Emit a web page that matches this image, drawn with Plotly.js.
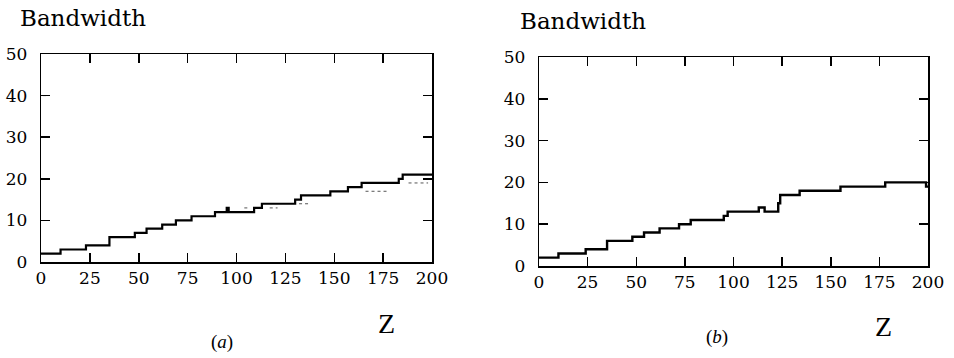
<!DOCTYPE html>
<html>
<head>
<meta charset="utf-8">
<script src="https://cdn.plot.ly/plotly-3.0.1.min.js"></script>
<style>html,body{margin:0;padding:0;background:#fff;}#chart{width:954px;height:358px;}</style>
</head>
<body>
<div id="chart"></div>
<script>
// Tick values
const xTicks = [0, 25, 50, 75, 100, 125, 150, 175, 200];
const yTicks = [0, 10, 20, 30, 40, 50];

// (a) main step series
const aX = [0, 10, 23, 35, 48, 54, 62, 69, 77, 89, 95, 96, 109, 113, 130, 133, 148, 157, 164, 183, 185, 200];
const aY = [2, 3, 4, 6, 7, 8, 9, 10, 11, 12, 13, 12, 13, 14, 15, 16, 17, 18, 19, 20, 21, 21];
// (a) faint dotted segments (null separates segments)
const aDotX = [1, 4, null, 104, 107, null, 117, 121, null, 132, 138, null, 166, 177, null, 188, 198];
const aDotY = [40, 40, null, 13, 13, null, 13, 13, null, 14, 14, null, 17, 17, null, 19, 19];

// (b) main step series
const bX = [0, 10, 24, 35, 48, 54, 62, 72, 78, 95, 97, 113, 116, 123, 124, 134, 155, 178, 199, 200];
const bY = [2, 3, 4, 6, 7, 8, 9, 10, 11, 12, 13, 14, 13, 15, 17, 18, 19, 20, 19, 19];

const serif = 'DejaVu Serif';
const cm = 'Liberation Serif';

function xAx(domain, anchor) {
  return {domain: domain, anchor: anchor, range: [0, 200], tickvals: xTicks, ticktext: xTicks.map(String),
    ticks: 'inside', ticklen: 9, tickwidth: 1.5, tickcolor: '#000', showline: true, linecolor: '#000', linewidth: 1.5,
    mirror: 'ticks', showgrid: false, zeroline: false, tickfont: {family: serif, size: 17, color: '#000'}};
}
function yAx(domain, anchor) {
  return {domain: domain, anchor: anchor, range: [0, 50], tickvals: yTicks, ticktext: yTicks.map(v => String(v) + '\u00a0\u2009'),
    ticks: 'inside', ticklen: 9, tickwidth: 1.5, tickcolor: '#000', showline: true, linecolor: '#000', linewidth: 1.5,
    mirror: 'ticks', showgrid: false, zeroline: false, tickfont: {family: serif, size: 17, color: '#000'}};
}

const data = [
  {x: aX, y: aY, xaxis: 'x', yaxis: 'y', mode: 'lines', line: {shape: 'hv', color: '#000', width: 2.2}},
  {x: aDotX, y: aDotY, xaxis: 'x', yaxis: 'y', mode: 'lines', line: {color: '#555', width: 1, dash: 'dot'}},
  {x: bX, y: bY, xaxis: 'x2', yaxis: 'y2', mode: 'lines', line: {shape: 'hv', color: '#000', width: 2.4}}
];

const layout = {
  width: 954, height: 358,
  margin: {l: 0, r: 0, t: 0, b: 0},
  showlegend: false,
  xaxis: xAx([41/954, 432/954], 'y'),
  yaxis: yAx([1 - 262/358, 1 - 54/358], 'x'),
  xaxis2: xAx([539/954, 928/954], 'y2'),
  yaxis2: yAx([1 - 266/358, 1 - 57/358], 'x2'),
  annotations: [
    {text: 'Bandwidth', xref: 'paper', yref: 'paper', x: 18/954, y: 1 - 18/358, xanchor: 'left', yanchor: 'middle', showarrow: false, font: {family: serif, size: 23, color: '#000'}},
    {text: 'Bandwidth', xref: 'paper', yref: 'paper', x: 518/954, y: 1 - 21/358, xanchor: 'left', yanchor: 'middle', showarrow: false, font: {family: serif, size: 23, color: '#000'}},
    {text: 'Z', xref: 'paper', yref: 'paper', x: 386/954, y: 1 - 323/358, xanchor: 'center', yanchor: 'middle', showarrow: false, font: {family: cm, size: 28, color: '#000'}},
    {text: 'Z', xref: 'paper', yref: 'paper', x: 883/954, y: 1 - 326/358, xanchor: 'center', yanchor: 'middle', showarrow: false, font: {family: cm, size: 28, color: '#000'}},
    {text: '(<i>a</i>)', xref: 'paper', yref: 'paper', x: 222/954, y: 1 - 342/358, xanchor: 'center', yanchor: 'middle', showarrow: false, font: {family: cm, size: 19, color: '#000'}},
    {text: '(<i>b</i>)', xref: 'paper', yref: 'paper', x: 717/954, y: 1 - 337/358, xanchor: 'center', yanchor: 'middle', showarrow: false, font: {family: cm, size: 19, color: '#000'}}
  ]
};

Plotly.newPlot('chart', data, layout, {staticPlot: true});
</script>
</body>
</html>
